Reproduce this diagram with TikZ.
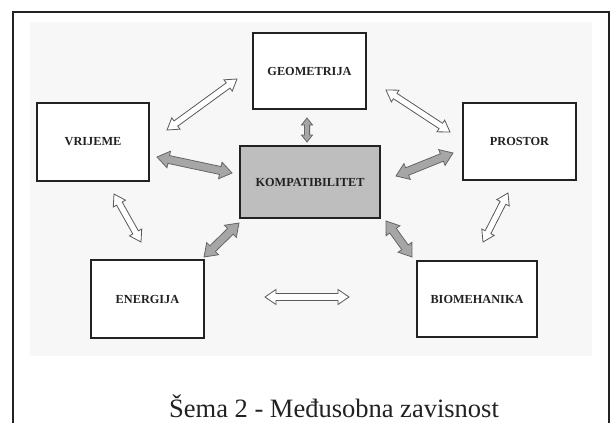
\documentclass[tikz,border=0pt]{standalone}
\usepackage{fontspec}
\setmainfont{Liberation Serif}
\usetikzlibrary{calc}
\definecolor{ink}{HTML}{222222}
\definecolor{boxgray}{HTML}{BEBEBE}
\definecolor{arrgray}{HTML}{A6A6A6}
\definecolor{panel}{HTML}{F7F7F7}
% #1 style, #2 start, #3 end, #4 head length, #5 head half width, #6 shaft half width
\newcommand{\blockarr}[6]{%
  \draw[#1] (#2)
    -- ($(#2)!#4!(#3)!#5!90:(#3)$)
    -- ($(#2)!#4!(#3)!#6!90:(#3)$)
    -- ($(#3)!#4!(#2)!#6!-90:(#2)$)
    -- ($(#3)!#4!(#2)!#5!-90:(#2)$)
    -- (#3)
    -- ($(#3)!#4!(#2)!#5!90:(#2)$)
    -- ($(#3)!#4!(#2)!#6!90:(#2)$)
    -- ($(#2)!#4!(#3)!#6!-90:(#3)$)
    -- ($(#2)!#4!(#3)!#5!-90:(#3)$)
    -- cycle;}
\tikzset{
  box/.style={draw=ink, line width=2.2pt, fill=white, inner sep=0pt,
    font=\fontsize{12.3}{14}\selectfont\bfseries, text=ink},
  warr/.style={draw=black!65, fill=white, line width=0.8pt, line join=miter},
  garr/.style={draw=black!60, fill=arrgray, line width=0.8pt, line join=miter},
}
\begin{document}
\begin{tikzpicture}[x=1pt, y=-1pt]
\useasboundingbox (0,0) rectangle (614,423);
% frame and panel
\fill[white] (0,0) rectangle (614,423);
\fill[panel] (30,22) rectangle (592,356);
\draw[ink, line width=2.5pt] (13,440) -- (13,12) -- (609,12) -- (609,440);
% boxes
\node[box, minimum width=113pt, minimum height=76pt] (geo) at (309.5,71) {GEOMETRIJA};
\node[box, minimum width=112pt, minimum height=78pt] (vri) at (93,142) {VRIJEME};
\node[box, minimum width=113pt, minimum height=77pt] (pro) at (519.5,141.5) {PROSTOR};
\node[box, fill=boxgray, minimum width=140pt, minimum height=72pt] (kom) at (310,182) {KOMPATIBILITET};
\node[box, minimum width=113pt, minimum height=78pt] (ene) at (147.5,299) {ENERGIJA};
\node[box, minimum width=120pt, minimum height=76pt] (bio) at (477,299) {BIOMEHANIKA};
% arrow end points
\coordinate (vg1) at (167,130); \coordinate (vg2) at (237,79);
\coordinate (gp1) at (386,90);  \coordinate (gp2) at (450,132);
\coordinate (gk1) at (307,118); \coordinate (gk2) at (307,142);
\coordinate (vk1) at (157,157); \coordinate (vk2) at (232,173);
\coordinate (pk1) at (396,176); \coordinate (pk2) at (453,153);
\coordinate (ve1) at (114,194); \coordinate (ve2) at (141,242);
\coordinate (pb1) at (508,193); \coordinate (pb2) at (483,242);
\coordinate (ke1) at (239,223); \coordinate (ke2) at (204,257);
\coordinate (kb1) at (386,221); \coordinate (kb2) at (412,257);
\coordinate (eb1) at (265,297); \coordinate (eb2) at (349,297);
% arrows
\blockarr{warr}{vg1}{vg2}{11pt}{7pt}{3.2pt}
\blockarr{warr}{gp1}{gp2}{11pt}{7pt}{3.2pt}
\blockarr{warr}{ve1}{ve2}{11pt}{7pt}{3.2pt}
\blockarr{warr}{pb1}{pb2}{11pt}{7pt}{3.2pt}
\blockarr{warr}{eb1}{eb2}{11pt}{7.5pt}{3.5pt}
\blockarr{garr}{gk1}{gk2}{7pt}{5.5pt}{2.6pt}
\blockarr{garr}{vk1}{vk2}{12pt}{8.5pt}{4pt}
\blockarr{garr}{pk1}{pk2}{12pt}{8.5pt}{4pt}
\blockarr{garr}{ke1}{ke2}{12pt}{8.5pt}{4pt}
\blockarr{garr}{kb1}{kb2}{12pt}{8.5pt}{4pt}
% caption
\node[anchor=base, inner sep=0pt, text=ink, font=\fontsize{26.5}{30}\selectfont] (cap) at (334,417) {Šema 2 - Međusobna zavisnost};
\end{tikzpicture}
\end{document}
